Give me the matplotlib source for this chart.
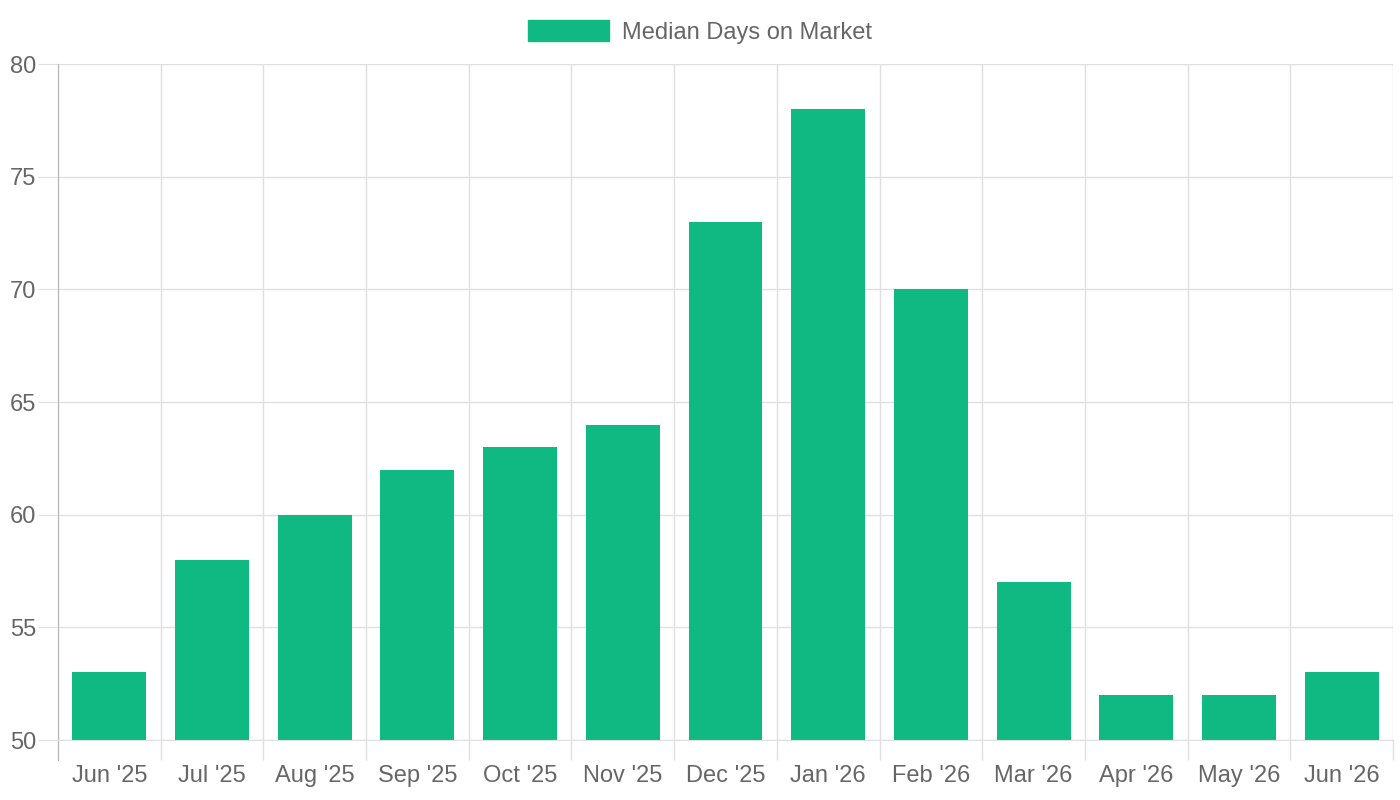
import numpy as np
import matplotlib.pyplot as plt
from matplotlib.patches import Patch

# data
months = ["Jun '25", "Jul '25", "Aug '25", "Sep '25", "Oct '25", "Nov '25", "Dec '25",
          "Jan '26", "Feb '26", "Mar '26", "Apr '26", "May '26", "Jun '26"]
median_days = [53, 58, 60, 62, 63, 64, 73, 78, 70, 57, 52, 52, 53]

bar_color = '#10b981'
text_color = '#666666'
grid_color = '#e0e0e0'
axis_color = '#b4b4b4'

plt.rcParams['font.family'] = ['Liberation Sans', 'DejaVu Sans']

fig = plt.figure(figsize=(14, 8), dpi=100)
ax = fig.add_axes([58/1400, 60/800, (1393-58)/1400, (740-64)/800])

x = np.arange(len(months))
ax.bar(x, [v - 50 for v in median_days], bottom=50, width=0.72, color=bar_color, zorder=2)

ax.set_xlim(-0.5, len(months) - 0.5)
ax.set_ylim(50, 80)

# labels at bar centres, grid lines on category edges (Chart.js style)
ax.set_xticks(x)
ax.set_xticklabels(months, va='baseline')
ax.set_xticks(np.arange(len(months) + 1) - 0.5, minor=True)
ax.tick_params(axis='x', which='major', length=0, pad=30, labelsize=17, labelcolor=text_color)
ax.tick_params(axis='x', which='minor', length=14.4, color=grid_color, width=1)
ax.grid(axis='x', which='minor', color=grid_color, linewidth=1, zorder=0)

ax.set_yticks(np.arange(50, 81, 5))
ax.tick_params(axis='y', which='major', length=14.4, color=grid_color, pad=1,
               labelsize=17, labelcolor=text_color)
ax.grid(axis='y', which='major', color=grid_color, linewidth=1, zorder=0)

for side in ['top', 'right']:
    ax.spines[side].set_visible(False)
ax.spines['left'].set_color(axis_color)
ax.spines['left'].set_bounds(50 - 20/676*30, 80)
ax.spines['bottom'].set_color(grid_color)

fig.legend(handles=[Patch(color=bar_color, label='Median Days on Market')],
           loc='center', bbox_to_anchor=(0.5, 1 - 32/800), frameon=False,
           fontsize=17, labelcolor=text_color, handlelength=3.4, handleheight=1.0,
           handletextpad=0.55)

fig.savefig('out.png', dpi=100)
